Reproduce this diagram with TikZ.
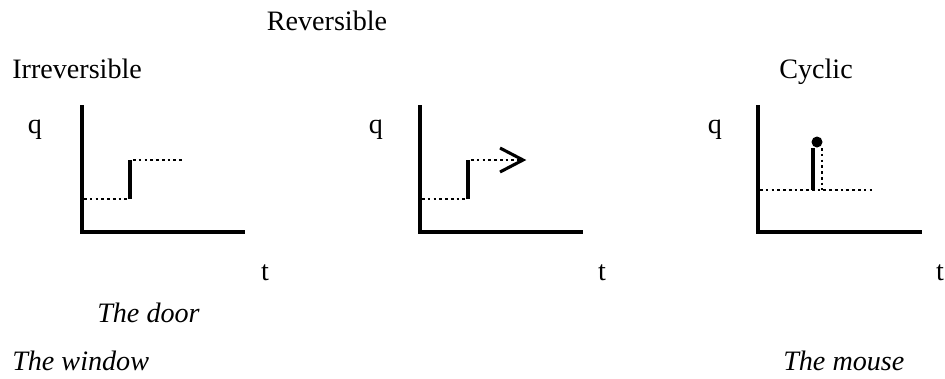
\documentclass[tikz,border=0pt]{standalone}
\usepackage{fontspec}
\setmainfont{Liberation Serif}
\usepackage{tikz}
\usetikzlibrary{positioning, calc}

\begin{document}
\begin{tikzpicture}[
    x=0.025cm, y=-0.025cm,
    lbl/.style={inner sep=0pt, font=\fontsize{20}{24}\selectfont},
    example/.style={lbl, font=\fontsize{20}{24}\selectfont\itshape, anchor=base west},
    axis/.style={line width=2.9pt},
    jump/.style={line width=2.4pt},
    level/.style={line width=1.9pt, dash pattern=on 1.9pt off 2.2pt}
  ]
  \useasboundingbox (0,0) rectangle (945,378);

  % titles
  \node[lbl, anchor=base] (rev) at (327,30) {Reversible};
  \node[lbl, anchor=base west] (irr) at (12,78) {Irreversible};
  \node[lbl, anchor=base] (cyc) at (816,78) {Cyclic};

  % panel 1: irreversible
  \node[lbl, anchor=base] (q1) at (35,133) {q};
  \node[lbl, anchor=base] (t1) at (265,280) {t};
  \draw[axis] (82,105) -- (82,232) -- (245,232);
  \draw[level] (84,199) -- (130,199);
  \draw[jump] (130,199) -- (130,160);
  \draw[level] (133,160) -- (183,160);

  % panel 2: reversible
  \node[lbl, anchor=base] (q2) at (376,133) {q};
  \node[lbl, anchor=base] (t2) at (602,280) {t};
  \draw[axis] (420,105) -- (420,232) -- (583,232);
  \draw[level] (422,199) -- (468,199);
  \draw[jump] (468,199) -- (468,160);
  \draw[level] (471,160) -- (520,160);
  \draw[line width=2.2pt] (500,148) -- (523,160) -- (500,172);

  % panel 3: cyclic
  \node[lbl, anchor=base] (q3) at (715,133) {q};
  \node[lbl, anchor=base] (t3) at (940,280) {t};
  \draw[axis] (758,105) -- (758,232) -- (922,232);
  \draw[level] (760,190) -- (875,190);
  \draw[jump] (813,190) -- (813,148);
  \draw[level] (822,148) -- (822,190);
  \fill (817,142) circle (5.5);

  % examples
  \node[example] (door) at (97,322) {The door};
  \node[example] (win) at (12,370) {The window};
  \node[example] (mouse) at (783,370) {The mouse};
\end{tikzpicture}
\end{document}
